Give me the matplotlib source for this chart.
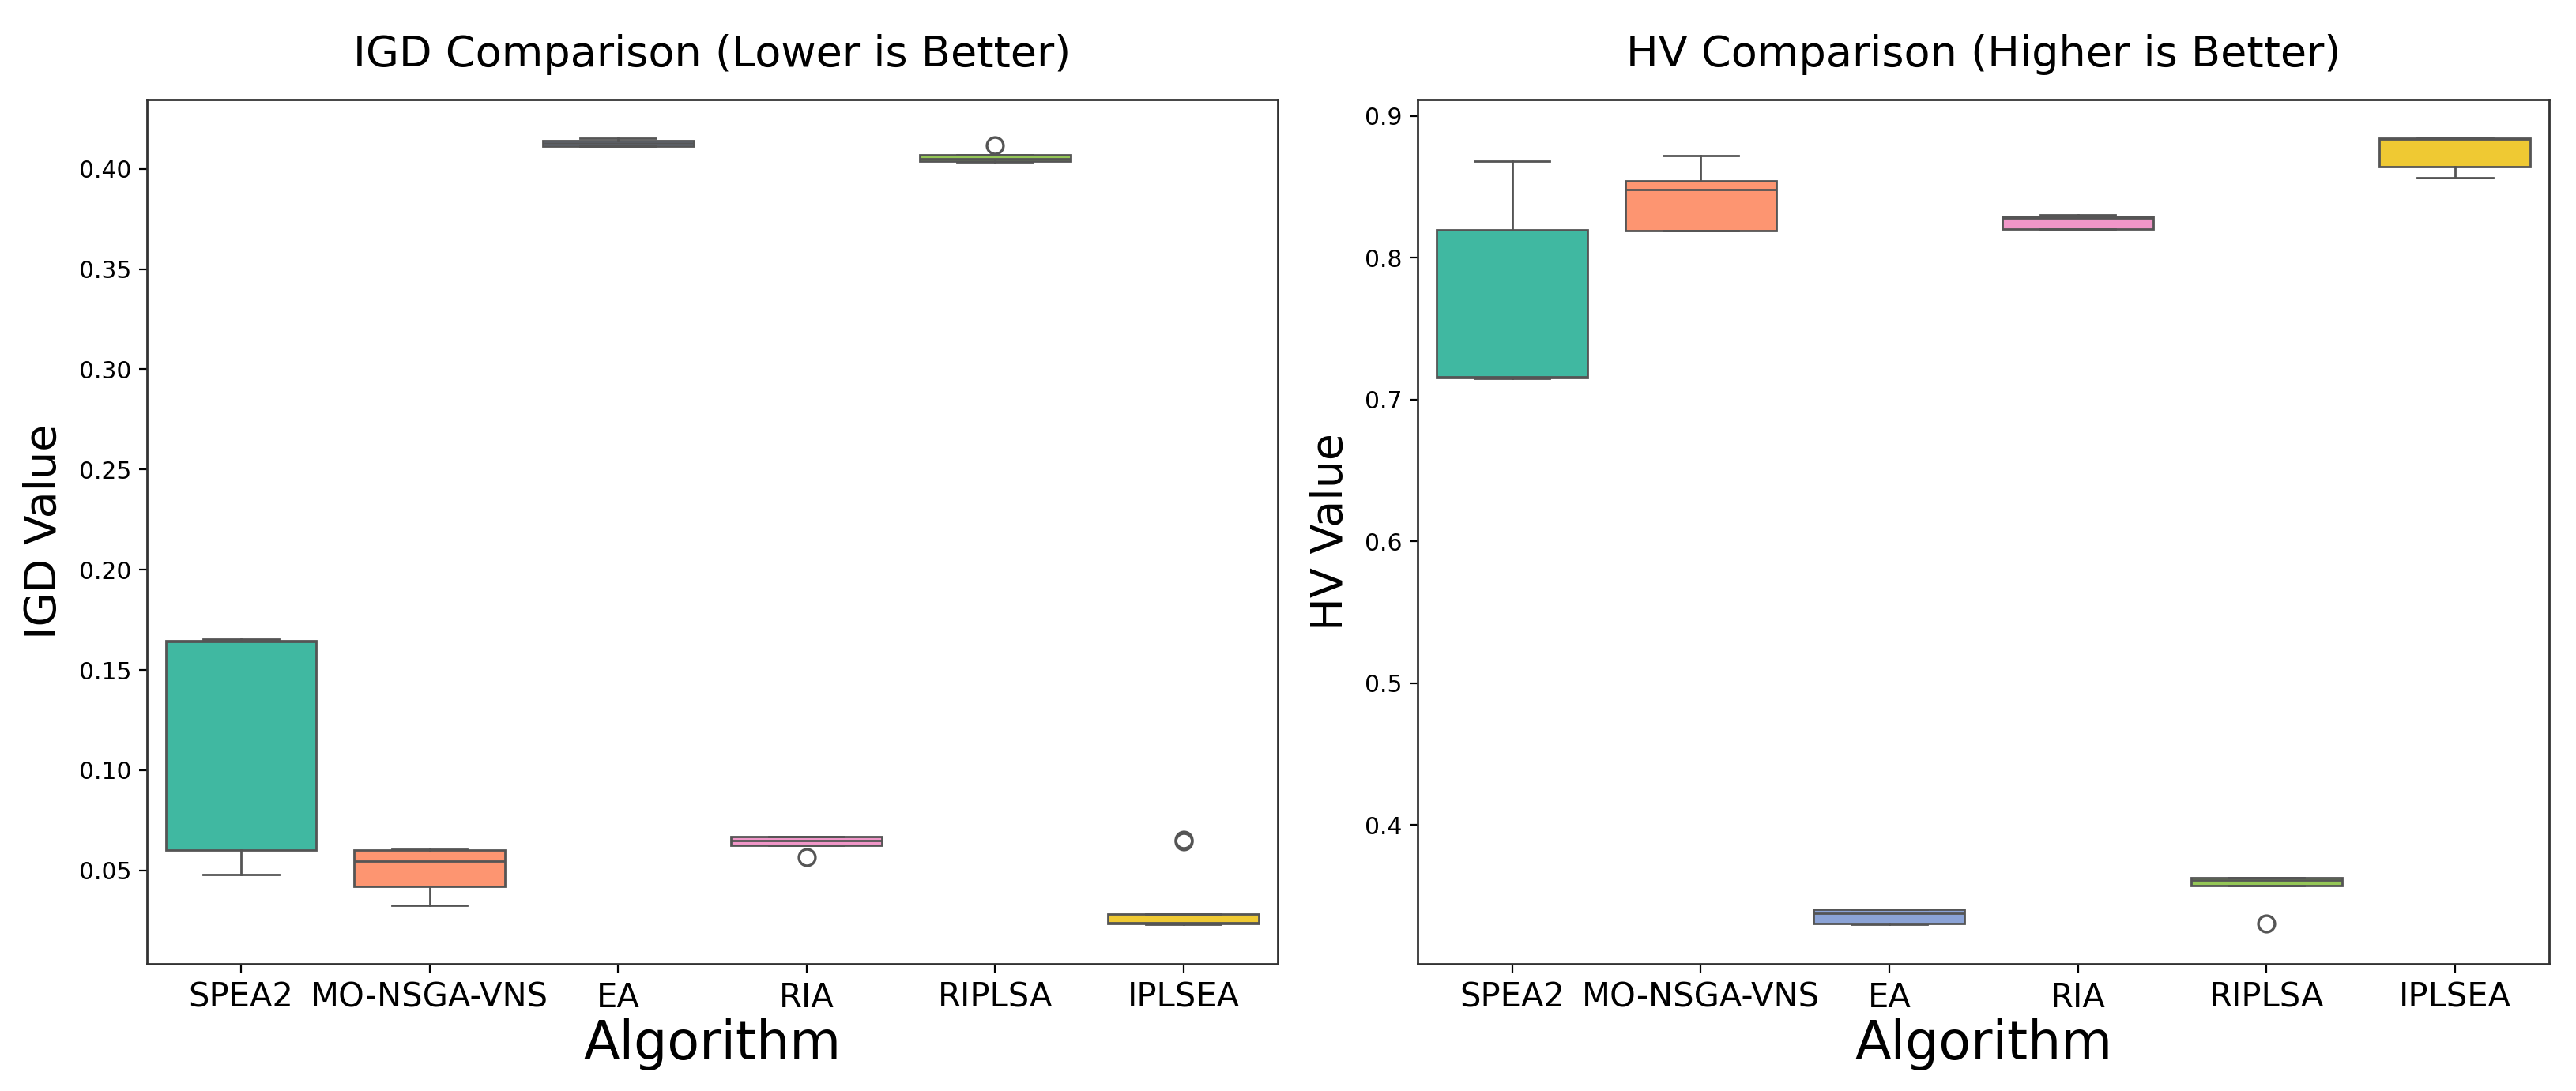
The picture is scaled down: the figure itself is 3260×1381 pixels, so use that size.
import matplotlib
matplotlib.use("Agg")
import matplotlib.pyplot as plt

# algorithms on the x axis
algorithms = ["SPEA2", "MO-NSGA-VNS", "EA", "RIA", "RIPLSA", "IPLSEA"]
box_colors = ["#40b8a1", "#fd9571", "#8ba3d6", "#f096c8", "#94c656", "#efc933"]

# IGD box statistics
igd_whislo = [0.0480, 0.0327, 0.4112, 0.0626, 0.4036, 0.0230]
igd_q1 = [0.0603, 0.0420, 0.4115, 0.0626, 0.4038, 0.0234]
igd_med = [0.1640, 0.0546, 0.4128, 0.0650, 0.4050, 0.0240]
igd_q3 = [0.1644, 0.0603, 0.4142, 0.0668, 0.4068, 0.0281]
igd_whishi = [0.1652, 0.0605, 0.4151, 0.0670, 0.4070, 0.0283]
igd_fliers = [[], [], [], [0.0566], [0.4118], [0.0643, 0.0652]]

# HV box statistics
hv_whislo = [0.7150, 0.8190, 0.3303, 0.8200, 0.3573, 0.8564]
hv_q1 = [0.7153, 0.8192, 0.3305, 0.8201, 0.3575, 0.8643]
hv_med = [0.7160, 0.8483, 0.3378, 0.8280, 0.3610, 0.8835]
hv_q3 = [0.8196, 0.8540, 0.3405, 0.8290, 0.3628, 0.8840]
hv_whishi = [0.8680, 0.8720, 0.3408, 0.8300, 0.3630, 0.8842]
hv_fliers = [[], [], [], [], [0.3308], []]

line_col = "#555555"


def make_stats(lo, q1, med, q3, hi, fl):
    stats = []
    for i in range(len(algorithms)):
        stats.append({"whislo": lo[i], "q1": q1[i], "med": med[i],
                      "q3": q3[i], "whishi": hi[i], "fliers": fl[i],
                      "label": algorithms[i]})
    return stats


def draw(ax, stats, title, ylabel):
    res = ax.bxp(stats, positions=range(len(algorithms)), widths=0.8,
                 capwidths=0.4, patch_artist=True,
                 boxprops=dict(edgecolor=line_col, linewidth=1.0),
                 whiskerprops=dict(color=line_col, linewidth=1.0),
                 capprops=dict(color=line_col, linewidth=1.0),
                 medianprops=dict(color=line_col, linewidth=1.0),
                 flierprops=dict(marker="o", markerfacecolor="none",
                                 markeredgecolor=line_col, markersize=7.5,
                                 markeredgewidth=1.2))
    for patch, c in zip(res["boxes"], box_colors):
        patch.set_facecolor(c)
    ax.set_xlim(-0.5, len(algorithms) - 0.5)
    ax.set_xticks(range(len(algorithms)))
    ax.set_xticklabels(algorithms, fontsize=15)
    ax.tick_params(axis="y", labelsize=10.7)
    ax.tick_params(axis="x", length=4.4)
    ax.set_title(title, fontsize=19.5, pad=15)
    ax.set_xlabel("Algorithm", fontsize=24, labelpad=2)
    ax.set_ylabel(ylabel, fontsize=20, labelpad=6)
    for s in ax.spines.values():
        s.set_linewidth(1.0)
        s.set_color("#333333")


fig = plt.figure(figsize=(16.3, 6.905), dpi=200)
ax1 = fig.add_axes([0.057, 0.1166, 0.439, 0.7924])
ax2 = fig.add_axes([0.5504, 0.1166, 0.4392, 0.7924])

draw(ax1, make_stats(igd_whislo, igd_q1, igd_med, igd_q3, igd_whishi, igd_fliers),
     "IGD Comparison (Lower is Better)", "IGD Value")
draw(ax2, make_stats(hv_whislo, hv_q1, hv_med, hv_q3, hv_whishi, hv_fliers),
     "HV Comparison (Higher is Better)", "HV Value")

ax1.set_yticks([0.05, 0.10, 0.15, 0.20, 0.25, 0.30, 0.35, 0.40])
ax1.set_yticklabels(["0.05", "0.10", "0.15", "0.20", "0.25", "0.30", "0.35", "0.40"])
ax1.set_ylim(0.0034, 0.4347)
ax2.set_yticks([0.4, 0.5, 0.6, 0.7, 0.8, 0.9])
ax2.set_ylim(0.3022, 0.9117)

fig.savefig("out.png", dpi=200)
